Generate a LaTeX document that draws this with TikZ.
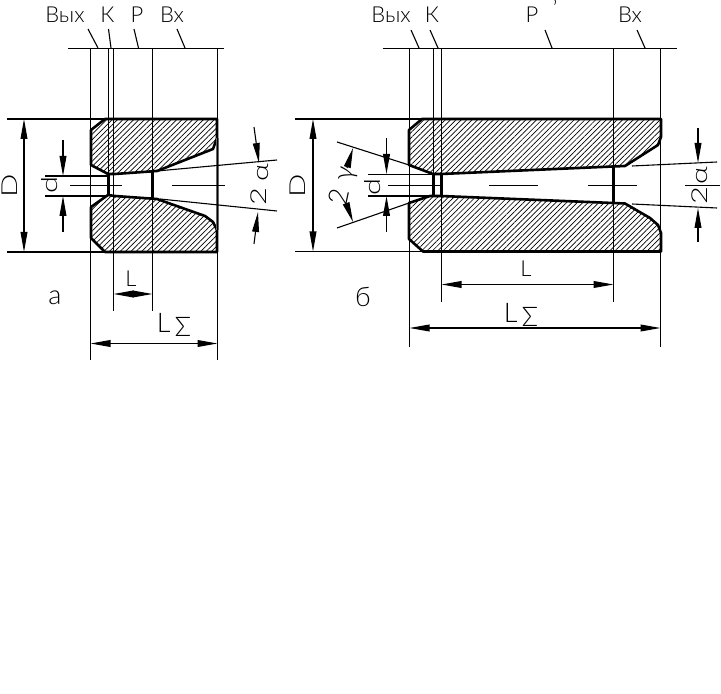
\documentclass[tikz,border=0pt]{standalone}
\usepackage{fontspec}
\setmainfont{Lato}[UprightFont=* Light]
\usetikzlibrary{arrows.meta, patterns.meta}

\tikzset{
	thinline/.style={line width=0.55pt, black},
	contour/.style={line width=1.3pt, black, line join=round, pattern={Lines[angle=45, distance=1.9pt, line width=0.35pt]}, pattern color=black},
	throat/.style={line width=1.1pt, black},
	dimboth/.style={thinline, {Triangle[length=10pt,width=3.4pt]}-{Triangle[length=10pt,width=3.4pt]}},
	dimto/.style={thinline, -{Triangle[length=10pt,width=3.4pt]}},
	label/.style={font=\fontsize{11}{11}\selectfont, inner sep=0pt},
	biglabel/.style={font=\fontsize{13.5}{13.5}\selectfont, inner sep=0pt},
	sidelabel/.style={label, rotate=90, xscale=1.4}
}

\begin{document}
\begin{tikzpicture}[x=0.5pt, y=-0.5pt]
	\useasboundingbox (0,0) rectangle (721,694);

	% picture a
	\draw[contour] (91,130) -- (105,119) -- (217,119) -- (217,138) -- (213,149) -- (157,171) -- (115,174) -- (108,174) -- (91,165) -- cycle;
	\draw[contour] (91,207) -- (108,195) -- (115,196) -- (157,199) -- (205,216) -- (213,222) -- (217,230) -- (217,252) -- (105,252) -- (91,238) -- cycle;
	\draw[throat] (108.5,175) -- (108.5,195);
	\draw[throat] (152.5,172) -- (152.5,199);
	\draw[line width=0.8pt, black!60] (113.5,174) -- (113.5,196);
	\draw[line width=1.1pt, black!60] (217.5,138) -- (217.5,230);

	\draw[thinline] (68,48.5) -- (224,48.5);
	\foreach \xa/\ya in {90.5/360, 108.5/175, 113.5/311, 152.5/311, 217.5/360}
		\draw[thinline] (\xa,48) -- (\xa,\ya);
	\foreach \xa/\xb in {88/98, 108.5/111, 134/138.5, 177/185}
		\draw[thinline] (\xa,29) -- (\xb,48);
	\foreach \ya in {119, 252}
		\draw[thinline] (7,\ya) -- (105,\ya);
	\foreach \ya in {176, 196}
		\draw[thinline] (45,\ya) -- (108,\ya);
	\draw[thinline] (70,185.5) -- (122,185.5);
	\draw[thinline] (172,185.5) -- (225,185.5);
	\draw[thinline] (157,171) -- (277,160);
	\draw[thinline] (160,199) -- (277,211);

	\draw[dimboth] (24,119) -- (24,252);
	\draw[dimto] (63,140) -- (63,176);
	\draw[dimto] (63,232) -- (63,196);
	\draw[dimto] (254,127) -- (259,163);
	\draw[dimto] (254,244) -- (258,212);
	\draw[dimboth] (113.5,294) -- (152.5,294);
	\draw[dimboth] (90.5,343.5) -- (217.5,343.5);

	\node[label] (outa) at (65,14.5) {Вых};
	\node[label] (ka) at (107.5,14.5) {К};
	\node[label] (pa) at (137,14.5) {Р};
	\node[label] (ina) at (172,14.5) {Вх};
	\node[sidelabel] (Da) at (10,186) {D};
	\node[sidelabel] (da) at (50,185) {d};
	\node[sidelabel] (alphaa) at (263,173) {α};
	\node[sidelabel] (twoa) at (259,197) {2};
	\node[label] (La) at (131,279) {L};
	\node[biglabel] (suma) at (174,325) {L\,\raisebox{-2pt}{Σ}};
	\node[biglabel] (namea) at (55,298) {а};

	% picture b
	\draw[contour] (409,130) -- (422,119) -- (661,119) -- (661,137) -- (658,145) -- (625,166) -- (613,166.5) -- (441,174) -- (433,174) -- (409,165) -- cycle;
	\draw[contour] (409,203) -- (430,196) -- (441,196) -- (613,203) -- (625,203.5) -- (650,218) -- (658,225) -- (661,233) -- (661,251.5) -- (423,251.5) -- (409,239) -- cycle;
	\foreach \xa/\ya/\yb in {433.5/174/196, 441.5/174/196, 613.5/167/203}
		\draw[throat] (\xa,\ya) -- (\xa,\yb);

	\draw[thinline] (382.5,48.5) -- (676.5,48.5);
	\foreach \xa/\ya in {409.5/347, 433.5/175, 441.5/302, 613.5/302, 660.5/347}
		\draw[thinline] (\xa,48) -- (\xa,\ya);
	\foreach \xa/\xb in {411/419, 430/438, 545/552, 637/645}
		\draw[thinline] (\xa,30) -- (\xb,48);
	\foreach \ya in {119, 251.5}
		\draw[thinline] (295,\ya) -- (422,\ya);
	\foreach \ya in {174.5, 196}
		\draw[thinline] (368,\ya) -- (433,\ya);
	\foreach \xa/\xb in {388/440, 489/538, 588/637, 685/720}
		\draw[thinline] (\xa,185.5) -- (\xb,185.5);
	\draw[thinline] (337,142) -- (409,165);
	\draw[thinline] (337,228) -- (409,203);
	\draw[thinline] (632,166) -- (717,162);
	\draw[thinline] (632,204) -- (717,208);

	\draw[dimboth] (313,119) -- (313,251.5);
	\draw[dimto] (386.5,138) -- (386.5,174);
	\draw[dimto] (386.5,232) -- (386.5,196);
	\draw[dimto] (347,168) -- (353,148);
	\draw[dimto] (346,203) -- (353,222);
	\draw[dimto] (698,128) -- (698,163);
	\draw[dimto] (698,242) -- (698,208);
	\draw[dimboth] (441.5,284.5) -- (613.5,284.5);
	\draw[dimboth] (409.5,328) -- (660.5,328);

	\node[label] (outb) at (391,15) {Вых};
	\node[label] (kb) at (432,15) {К};
	\node[label] (pb) at (532,15) {Р};
	\node[label] (markb) at (555,8) {'};
	\node[label] (inb) at (630,15) {Вх};
	\node[sidelabel] (Db) at (298,186) {D};
	\node[sidelabel] (db) at (373,187) {d};
	\node[biglabel, rotate=78] (gammab) at (343,186) {2\,\,γ};
	\node[sidelabel] (alphab) at (702,176) {α};
	\node[sidelabel] (twob) at (700,196) {2};
	\node[label] (Lb) at (526,269) {L};
	\node[biglabel] (sumb) at (521,315) {L\,\raisebox{-2pt}{Σ}};
	\node[biglabel] (nameb) at (363,297) {б};
\end{tikzpicture}
\end{document}
